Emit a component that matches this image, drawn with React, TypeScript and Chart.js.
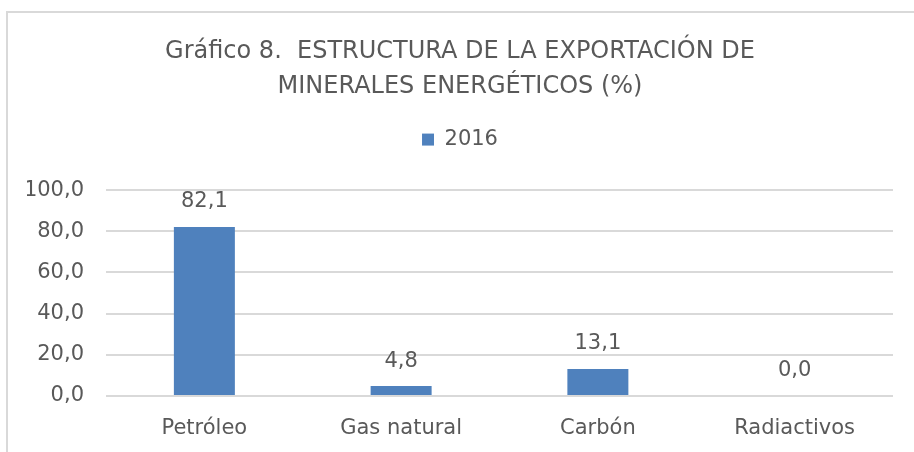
import React, { useEffect, useRef } from "react";
import { Chart, registerables } from "chart.js";

Chart.register(...registerables);

const categories = ["Petróleo", "Gas natural", "Carbón", "Radiactivos"];
const values2016 = [82.1, 4.8, 13.1, 0.0];
const seriesLabel = "2016";
const titleLines = ["Gráfico 8.  ESTRUCTURA DE LA EXPORTACIÓN DE", "MINERALES ENERGÉTICOS (%)"];
const yTicks = [0, 20, 40, 60, 80, 100];

const FONT = "'DejaVu Sans', sans-serif";
const TEXT = "#595959";

const fmt = (v: number) => v.toFixed(1).replace(".", ",");

const dataLabels = {
  id: "dataLabels",
  afterDatasetsDraw(chart: any) {
    const ctx = chart.ctx;
    ctx.save();
    ctx.font = `21px ${FONT}`;
    ctx.fillStyle = TEXT;
    ctx.textAlign = "center";
    ctx.textBaseline = "middle";
    chart.getDatasetMeta(0).data.forEach((bar: any, i: number) => {
      const v = chart.data.datasets[0].data[i];
      ctx.fillText(fmt(v), bar.x, bar.y - 25);
    });
    ctx.restore();
  },
};

const legendSpacer = {
  id: "legendSpacer",
  beforeInit(chart: any) {
    const orig = chart.legend.fit;
    chart.legend.fit = function () {
      orig.bind(chart.legend)();
      this.height += 30;
    };
  },
};

export default function App() {
  const ref = useRef<HTMLCanvasElement>(null);
  useEffect(() => {
    const chart = new Chart(ref.current!, {
      type: "bar",
      data: {
        labels: categories,
        datasets: [
          {
            label: seriesLabel,
            data: values2016,
            backgroundColor: "#4F81BD",
            borderWidth: 0,
            categoryPercentage: 1,
            barPercentage: 0.31,
          },
        ],
      },
      options: {
        animation: false,
        responsive: false,
        layout: { padding: { left: 27, right: 21, top: 34, bottom: 0 } },
        plugins: {
          title: {
            display: true,
            text: titleLines,
            color: TEXT,
            font: { family: FONT, size: 24, weight: "normal", lineHeight: 1.46 },
            padding: { top: 0, bottom: 15 },
          },
          legend: {
            display: true,
            labels: {
              color: TEXT,
              font: { family: FONT, size: 21 },
              boxWidth: 12,
              boxHeight: 12,
              padding: 10,
            },
          },
          tooltip: { enabled: false },
        },
        scales: {
          x: {
            grid: { display: false },
            border: { display: false },
            afterFit: (axis: any) => {
              axis.height = 56;
            },
            ticks: { color: TEXT, font: { family: FONT, size: 21 }, padding: 12 },
          },
          y: {
            min: 0,
            max: 100,
            afterBuildTicks: (axis: any) => {
              axis.ticks = yTicks.map((v) => ({ value: v }));
            },
            afterFit: (axis: any) => {
              axis.width = 79;
            },
            grid: { color: "#D9D9D9", lineWidth: 2, drawTicks: false },
            border: { display: false },
            ticks: {
              color: TEXT,
              font: { family: FONT, size: 21 },
              padding: 22,
              callback: (v: any) => fmt(Number(v)),
            },
          },
        },
      },
      plugins: [dataLabels, legendSpacer],
    });
    return () => chart.destroy();
  }, []);
  return (
    <div style={{ position: "fixed", left: 0, top: 0, width: 914, height: 452, background: "#fff", overflow: "hidden" }}>
      <div
        style={{
          position: "absolute",
          left: 6,
          top: 11,
          width: 930,
          height: 470,
          border: "2px solid #D9D9D9",
          boxSizing: "border-box",
        }}
      />
      <canvas ref={ref} width={914} height={452} style={{ position: "absolute", left: 0, top: 0 }} />
    </div>
  );
}
